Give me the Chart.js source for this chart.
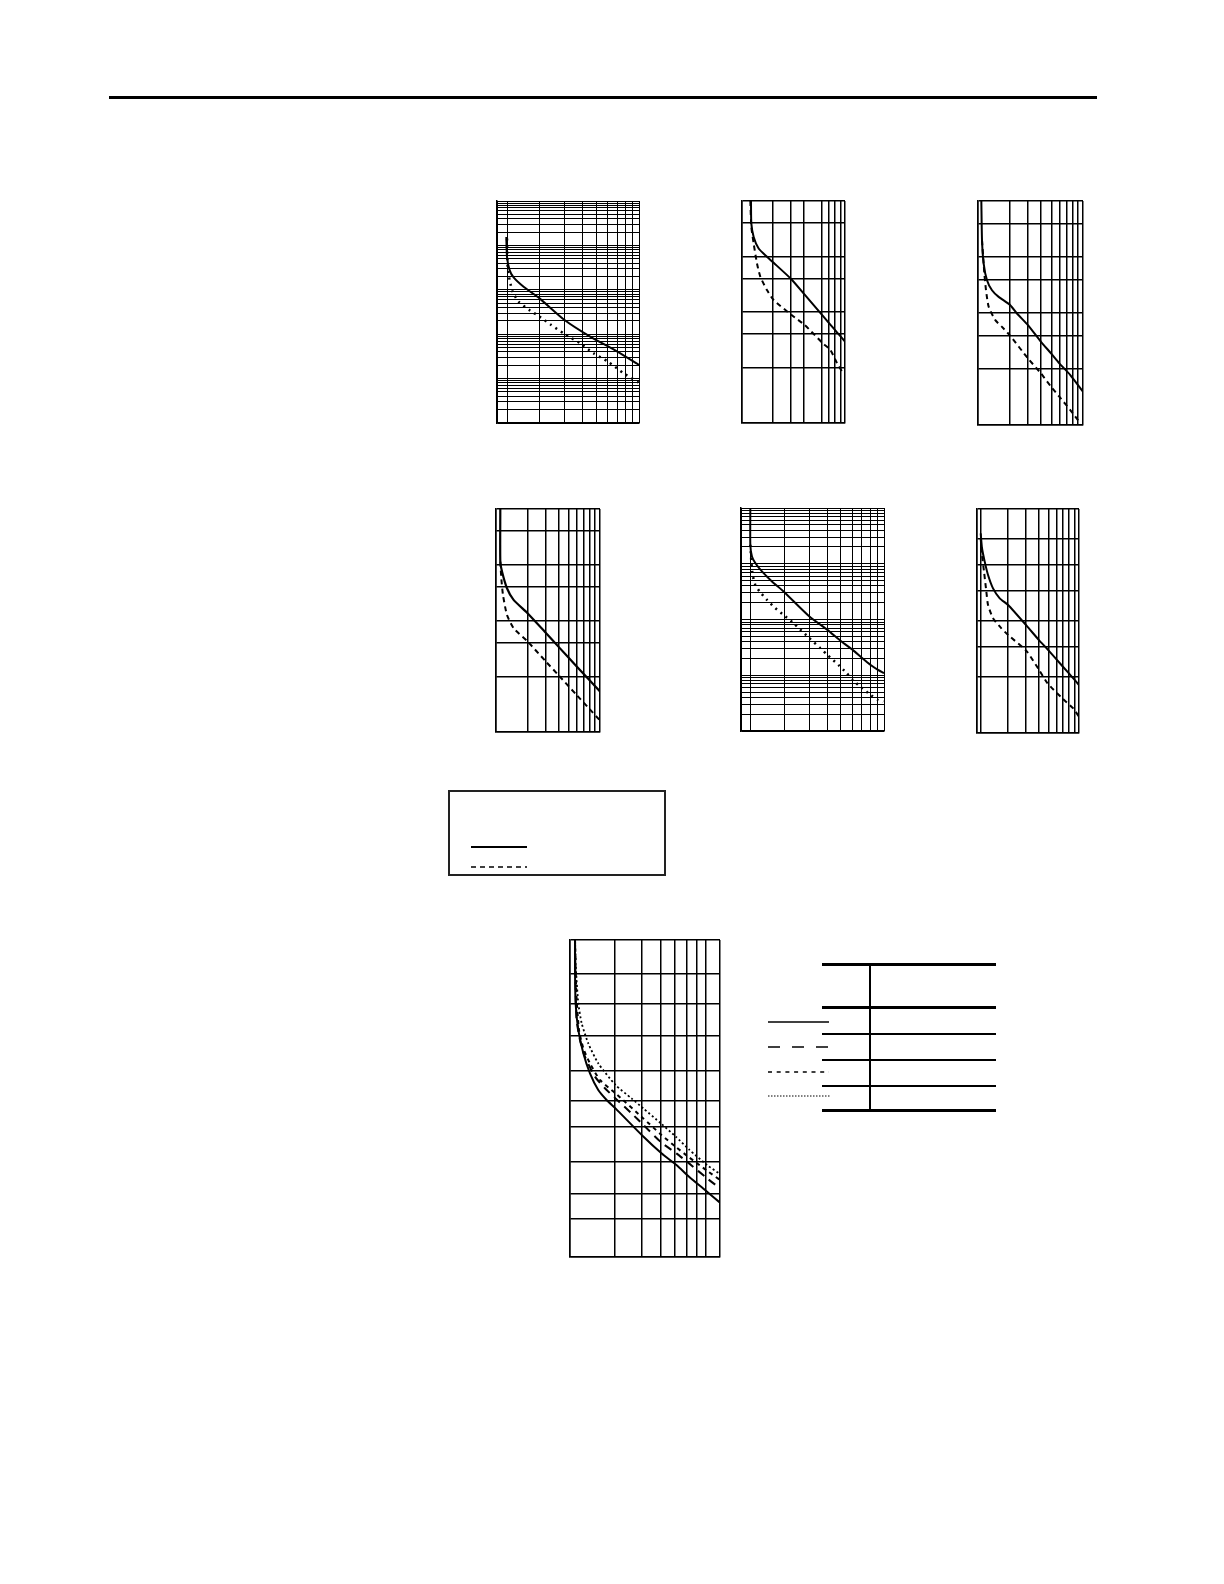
<!DOCTYPE html>
<html lang="en">
<head>
<meta charset="UTF-8">
<title>Curves</title>
<script src="https://cdn.jsdelivr.net/npm/chart.js"></script>
<style>
  body { margin: 0; background: #fff; }
  .page { position: relative; width: 1224px; height: 1584px; }
  .hl { position: absolute; background: #000; }
  .plot { position: absolute; }
  svg { position: absolute; overflow: visible; }
</style>
</head>
<body>
<div class="page" id="page">
  <div class="hl" style="left:109px;top:96px;width:988px;height:3px"></div>

  <!-- legend box -->
  <div style="position:absolute;left:448px;top:790px;width:214px;height:82px;border:2px solid #222"></div>
  <svg style="left:0;top:0" width="1224" height="1584">
    <line x1="471" y1="847" x2="527" y2="847" stroke="#000" stroke-width="2"/>
    <line x1="471" y1="867" x2="527" y2="867" stroke="#000" stroke-width="1.5" stroke-dasharray="5 4"/>
    <!-- table samples -->
    <line x1="768" y1="1022" x2="829" y2="1022" stroke="#000" stroke-width="1.5"/>
    <line x1="768" y1="1047" x2="830" y2="1047" stroke="#000" stroke-width="1.5" stroke-dasharray="12 12"/>
    <line x1="768" y1="1072" x2="829" y2="1072" stroke="#000" stroke-width="1.5" stroke-dasharray="4 4.7"/>
    <line x1="768" y1="1096" x2="830" y2="1096" stroke="#000" stroke-width="1" stroke-dasharray="1.5 1.5"/>
  </svg>

  <!-- table rules -->
  <div class="hl" style="left:822px;top:963px;width:174px;height:3px"></div>
  <div class="hl" style="left:822px;top:1006px;width:174px;height:3px"></div>
  <div class="hl" style="left:822px;top:1033px;width:174px;height:2px"></div>
  <div class="hl" style="left:822px;top:1059px;width:174px;height:2px"></div>
  <div class="hl" style="left:822px;top:1085px;width:174px;height:2px"></div>
  <div class="hl" style="left:822px;top:1109px;width:174px;height:3px"></div>
  <div class="hl" style="left:869px;top:963px;width:2px;height:148px"></div>
</div>

<script>
// ---- grid values ----
const xGridStd = [1, 2, 3, 4, 5, 6, 7, 8, 9, 10];
const xGrid1 = [1, 1.18, 2, 3, 4, 5, 6, 7, 8, 9, 10];
const xGrid2 = [1, 2, 3, 4, 6, 7, 8, 9, 10];
const xGrid5 = [1, 1.16, 2, 3, 4, 5, 6, 7, 8, 9, 10];
const xGrid6 = [1, 1.09, 2, 3, 4, 5, 6, 7, 8, 9, 10];
const xGrid7 = [1, 2, 3, 4, 5, 6, 7, 8, 10];

const yDecades1 = [0.01, 0.1, 1, 10, 100];
const yDecades5 = [0.1, 1, 10, 100];
const yGrid24 = [0.1, 1, 4, 10, 40, 100, 400, 1000];
const yGrid3 = [0.1, 1, 4, 10, 40, 100, 400, 1000];
const yGrid6 = [0.1, 1, 3.5, 10, 35, 100, 290, 1000];
const yGrid7 = [1, 2.3, 4, 7.9, 17, 30, 58, 124, 252, 476, 1000];

// ---- curves [current multiple, time] ----
const c1Solid = [[1.163,155],[1.176,55.3],[1.227,27.7],[1.309,19.0],[1.539,11.7],[1.994,6.41],[2.99,2.09],[4.53,0.883],[7.04,0.407],[10,0.204]];
const c1Dotted = [[1.176,142],[1.188,33],[1.227,16.5],[1.289,9.06],[1.42,5.40],[1.714,3.39],[2.0,2.48],[2.37,1.67],[2.99,1.01],[3.85,0.625],[4.78,0.373],[6.03,0.243],[7.76,0.133],[9.9,0.082]];

const c2Solid = [[1.223,1000],[1.223,895],[1.232,392],[1.298,225],[1.451,139],[1.748,98.6],[2.03,76.9],[3.03,38.6],[4.06,20.5],[6.07,8.6],[7.2,5.92],[8.36,4.31],[10,2.93]];
const c2Dashed = [[1.205,1000],[1.232,341],[1.298,171],[1.398,74.9],[1.507,43.1],[1.748,24.8],[2.03,16.4],[3.03,8.83],[4.06,5.84],[6.07,2.74],[7.2,2.08],[8.36,1.2],[9.35,0.85]];

const c3Solid = [[1.076,1000],[1.092,199],[1.132,76.3],[1.218,38.5],[1.359,25.5],[1.573,19.4],[2.03,13.8],[2.35,9.8],[2.99,6.07],[3.98,3.06],[4.96,1.9],[5.95,1.26],[7.57,0.78],[10,0.393]];
const c3Dashed = [[1.092,199],[1.132,76.3],[1.149,50.6],[1.192,25.5],[1.264,12.9],[1.462,7.45],[1.693,5.66],[2.0,4.02],[2.99,1.55],[3.98,0.834],[4.96,0.483],[5.95,0.32],[7.57,0.185],[9.43,0.107]];

const c4Solid = [[1.1,1000],[1.1,114],[1.142,75.4],[1.275,37.9],[1.476,23.4],[2.01,13.5],[2.99,6.1],[3.98,3.4],[5.97,1.5],[7.9,0.855],[10,0.535]];
const c4Dashed = [[1.1,114],[1.125,57.3],[1.167,28.8],[1.275,12.6],[1.476,7.29],[2.01,4.21],[2.99,1.87],[3.98,1.05],[5.97,0.46],[7.9,0.26],[9.85,0.166]];

const c5Solid = [[1.162,1000],[1.162,219],[1.193,135],[1.259,103],[1.401,72.8],[1.646,48.2],[1.985,31.8],[3.01,11.3],[4.02,6.52],[5.04,4.02],[6.04,2.85],[7.06,2.02],[8.07,1.53],[9.08,1.25],[10,1.09]];
const c5Dotted = [[1.162,219],[1.181,110],[1.206,63.4],[1.259,42],[1.35,31.8],[1.518,22.5],[1.736,16],[1.985,12.1],[2.33,8.6],[3.01,4.62],[3.58,3.06],[4.02,2.32],[4.8,1.53],[5.49,1.09],[6.04,0.824],[7.06,0.583],[8.07,0.443],[9.08,0.36],[9.89,0.337]];

const c6Solid = [[1.087,368],[1.12,199],[1.19,115],[1.283,66.3],[1.436,38.3],[1.671,25.4],[2.02,19.3],[3.06,8.26],[4.07,4.52],[4.92,3.12],[6.86,1.57],[8.79,0.946],[10,0.72]];
const c6Dashed = [[1.087,299],[1.12,151],[1.172,76],[1.235,33.4],[1.283,19.3],[1.436,11.2],[1.735,7.4],[2.02,5.62],[3.06,2.9],[4.07,1.33],[4.92,0.771],[6.86,0.416],[8.79,0.275],[10,0.196]];

const c7Solid = [[1.08,1000],[1.08,520],[1.09,252],[1.136,141],[1.227,84.6],[1.359,54.7],[1.543,38],[1.754,30.6],[2.01,25.5],[3.08,13.8],[4.07,9.57],[5.12,7.42],[6.22,5.76],[8.2,4.15],[10,3.27]];
const c7LongDash = [[1.08,1000],[1.09,362],[1.107,175],[1.166,113],[1.258,78.7],[1.467,50.9],[1.709,39.5],[2.01,31.7],[2.57,22.9],[3.08,17.8],[4.07,12.1],[5.12,9.57],[6.22,7.69],[8.2,5.55],[10,4.47]];
const c7ShortDash = [[1.08,1000],[1.102,313],[1.148,141],[1.227,94.3],[1.359,68],[1.584,47.3],[2.01,35.4],[3.08,20.5],[4.07,14.3],[5.12,10.9],[6.22,8.77],[8.2,6.56],[10,5.36]];
const c7Dotted = [[1.08,1000],[1.096,520],[1.136,252],[1.196,163],[1.324,105],[1.543,68],[2.01,42.5],[2.57,31.7],[3.08,25.5],[4.07,18.2],[5.12,13.6],[6.22,10.4],[8.2,7.42],[10,6.1]];

function expandDecades(decades) {
  const out = [];
  decades.forEach(d => { for (let m = 1; m <= 9; m++) out.push(+(d * m).toPrecision(3)); });
  out.push(decades[decades.length - 1] * 10);
  return out;
}

const PAD = 4;
const page = document.getElementById('page');

function toXY(pts) { return pts.map(p => ({ x: p[0], y: p[1] })); }

function makeChart(box, xGrid, yGrid, yMin, yMax, series, gridWidth) {
  const div = document.createElement('div');
  div.className = 'plot';
  div.style.left = (box[0] - PAD) + 'px';
  div.style.top = (box[1] - PAD) + 'px';
  div.style.width = (box[2] + 2 * PAD) + 'px';
  div.style.height = (box[3] + 2 * PAD) + 'px';
  const cv = document.createElement('canvas');
  div.appendChild(cv);
  page.appendChild(div);

  const axis = (min, max, grid) => ({
    type: 'logarithmic',
    min: min,
    max: max,
    afterBuildTicks: s => { s.ticks = grid.map(v => ({ value: v })); },
    ticks: { display: false },
    grid: { color: '#000', lineWidth: gridWidth, drawTicks: false },
    border: { color: '#000', width: 1.5 }
  });

  new Chart(cv, {
    type: 'scatter',
    data: {
      datasets: series.map(s => ({
        data: toXY(s.pts),
        showLine: true,
        borderColor: '#000',
        borderWidth: s.width || 2,
        borderDash: s.dash || [],
        borderCapStyle: 'butt',
        pointRadius: 0,
        tension: 0.2,
        fill: false
      }))
    },
    options: {
      responsive: true,
      maintainAspectRatio: false,
      animation: false,
      layout: { padding: PAD },
      plugins: { legend: { display: false }, tooltip: { enabled: false } },
      scales: {
        x: axis(1, 10, xGrid),
        y: axis(yMin, yMax, yGrid)
      }
    }
  });
}

const dashed = [5, 4];
const dotted = [2, 4.5];

makeChart([497, 201, 142, 222], xGrid1, expandDecades(yDecades1), 0.01, 1000,
  [{ pts: c1Solid }, { pts: c1Dotted, dash: dotted, width: 2.5 }], 1);
makeChart([742, 201, 103, 222], xGrid2, yGrid24, 0.1, 1000,
  [{ pts: c2Solid }, { pts: c2Dashed, dash: dashed }], 1.5);
makeChart([978, 201, 105, 224], xGridStd, yGrid3, 0.1, 1000,
  [{ pts: c3Solid }, { pts: c3Dashed, dash: dashed }], 1.5);
makeChart([496, 509, 104, 223], xGridStd, yGrid24, 0.1, 1000,
  [{ pts: c4Solid, width: 2.2 }, { pts: c4Dashed, dash: dashed }], 1.5);
makeChart([741, 508, 143, 223], xGrid5, expandDecades(yDecades5), 0.1, 1000,
  [{ pts: c5Solid }, { pts: c5Dotted, dash: dotted, width: 2.5 }], 1);
makeChart([977, 509, 102, 224], xGrid6, yGrid6, 0.1, 1000,
  [{ pts: c6Solid }, { pts: c6Dashed, dash: dashed }], 1.5);
makeChart([570, 940, 150, 317], xGrid7, yGrid7, 1, 1000,
  [{ pts: c7Solid }, { pts: c7LongDash, dash: [8, 6] }, { pts: c7ShortDash, dash: [4, 4] }, { pts: c7Dotted, dash: [2, 2.5], width: 1.8 }], 1.5);
</script>
</body>
</html>
